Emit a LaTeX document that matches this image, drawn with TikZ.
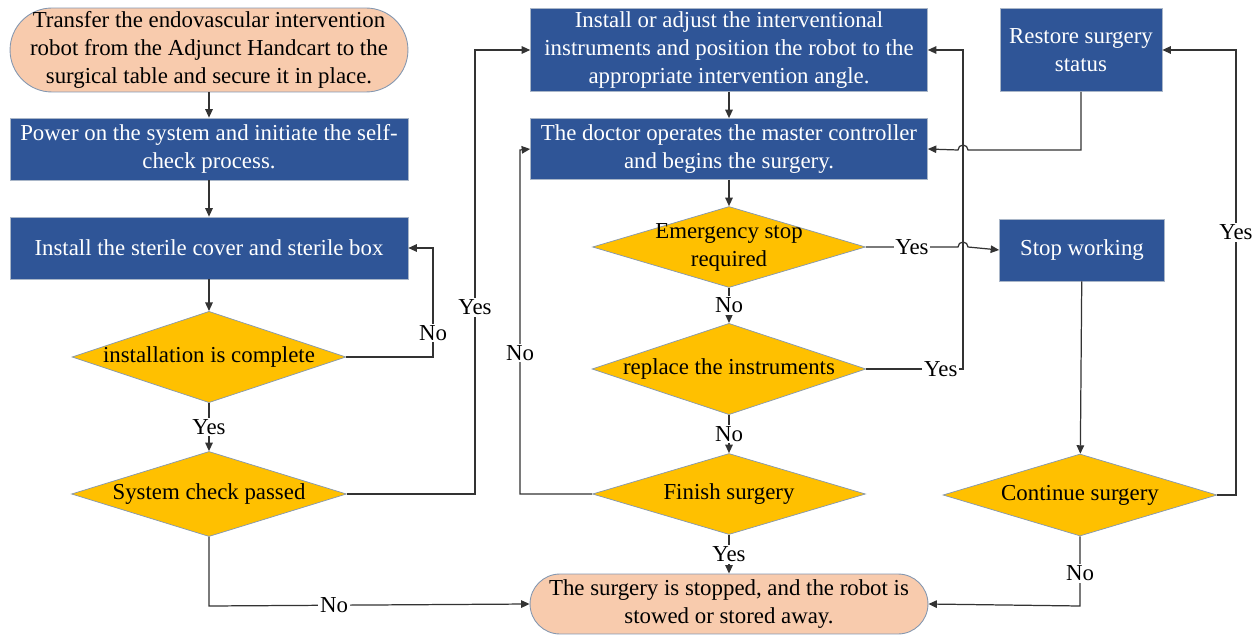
\documentclass[tikz,border=0pt]{standalone}
\usepackage{fontspec}
\setmainfont{Liberation Serif}
\usepackage{tikz}
\usetikzlibrary{arrows.meta,shapes.geometric}

\definecolor{boxblue}{HTML}{2F5597}
\definecolor{decyellow}{HTML}{FFC000}
\definecolor{termpeach}{HTML}{F8CBAD}
\definecolor{edgeblue}{HTML}{8497B0}
\definecolor{linegray}{HTML}{333333}

\tikzset{
  txt/.style={font=\fontsize{13}{15.9}\selectfont, align=center},
  procbox/.style={txt, rectangle, fill=boxblue, draw=edgeblue!70, line width=0.4pt,
    text=white, inner sep=0pt},
  termbox/.style={txt, rectangle, rounded corners=0.62cm, fill=termpeach, draw=edgeblue,
    line width=0.5pt, inner sep=0pt},
  decbox/.style={txt, diamond, fill=decyellow, draw=edgeblue, line width=0.4pt,
    inner sep=0pt, aspect=3},
  flow/.style={draw=linegray, line width=0.7pt, -{Triangle[length=1.7mm,width=1.5mm]}},
  lbl/.style={txt, fill=white, inner sep=1pt}
}

\begin{document}
\begin{tikzpicture}[x=0.02cm, y=-0.02cm]
  \useasboundingbox (0,0) rectangle (1258,635);

  % left column
  \node[termbox, minimum width=7.96cm, minimum height=1.68cm, rounded corners=0.84cm] (start) at (209,50)
    {Transfer the endovascular intervention\\robot from the Adjunct Handcart to the\\surgical table and secure it in place.};
  \node[procbox, minimum width=7.96cm, minimum height=1.24cm] (power) at (209,149)
    {Power on the system and initiate the self-\\check process.};
  \node[procbox, minimum width=7.96cm, minimum height=1.24cm] (sterile) at (209,248)
    {Install the sterile cover and sterile box};
  \node[decbox, minimum width=5.46cm, minimum height=1.62cm] (instdone) at (209,357)
    {installation is complete};
  \node[decbox, minimum width=5.5cm, minimum height=1.62cm] (syscheck) at (209,494)
    {System check passed};

  % middle column
  \node[procbox, minimum width=7.94cm, minimum height=1.66cm] (adjust) at (729,50)
    {Install or adjust the interventional\\instruments and position the robot to the\\appropriate intervention angle.};
  \node[procbox, minimum width=7.94cm, minimum height=1.22cm] (doctor) at (729,149)
    {The doctor operates the master controller\\and begins the surgery.};
  \node[decbox, inner sep=-5pt, minimum width=5.46cm, minimum height=1.62cm] (emerg) at (729,247)
    {Emergency stop\\required};
  \node[decbox, minimum width=5.46cm, minimum height=1.64cm] (replace) at (729,369)
    {replace the instruments};
  \node[decbox, minimum width=5.46cm, minimum height=1.62cm] (finish) at (729,494)
    {Finish surgery};
  \node[termbox, minimum width=7.96cm, minimum height=1.2cm, rounded corners=0.6cm] (stowed) at (729,604)
    {The surgery is stopped, and the robot is\\stowed or stored away.};

  % right column
  \node[procbox, minimum width=3.24cm, minimum height=1.66cm] (restore) at (1081,50)
    {Restore surgery\\status};
  \node[procbox, minimum width=3.3cm, minimum height=1.24cm] (stopw) at (1082,250)
    {Stop working};
  \node[decbox, minimum width=5.48cm, minimum height=1.64cm] (cont) at (1080,495)
    {Continue surgery};

  % connectors
  \draw[flow] (start) -- (power);
  \draw[flow] (power) -- (sterile);
  \draw[flow] (sterile) -- (instdone);
  \draw[flow] (instdone.east) -- (433,357) -- node[lbl,pos=0.22]{No} (433,248) -- (sterile.east);
  \draw[flow] (instdone.south) -- node[lbl]{Yes} (syscheck.north);
  \draw[flow] (syscheck.east) -- (475,494) -- node[lbl,pos=0.42]{Yes} (475,50) -- (adjust.west);
  \draw[flow] (syscheck.south) -- (209,606) -- node[lbl,pos=0.39]{No} (stowed.west);

  \draw[flow] (adjust) -- (doctor);
  \draw[flow] (doctor) -- (emerg);
  \draw[flow] (emerg.south) -- node[lbl]{No} (replace.north);
  \draw[flow] (replace.south) -- node[lbl]{No} (finish.north);
  \draw[flow] (finish.south) -- node[lbl]{Yes} (stowed.north);
  \draw[flow] (replace.east) -- node[lbl,pos=0.77]{Yes} (963,369) -- (963,50) -- (adjust.east);
  \draw[flow] (finish.west) -- (520,494) -- node[lbl,pos=0.41]{No} (520,150) -- (doctor.west);

  % crossings over the x=963 line
  \draw[flow] (emerg.east) -- node[lbl]{Yes} (958,247) arc (180:0:0.1cm) -- (stopw.west);
  \draw[flow] (restore.south) -- (1081,150) -- (968,150) arc (0:180:0.1cm) -- (doctor.east);

  \draw[flow] (stopw) -- (cont);
  \draw[flow] (cont.east) -- (1236,495) -- node[lbl,pos=0.59]{Yes} (1236,50) -- (restore.east);
  \draw[flow] (cont.south) -- node[lbl,pos=0.53]{No} (1080,606) -- (stowed.east);
\end{tikzpicture}
\end{document}
